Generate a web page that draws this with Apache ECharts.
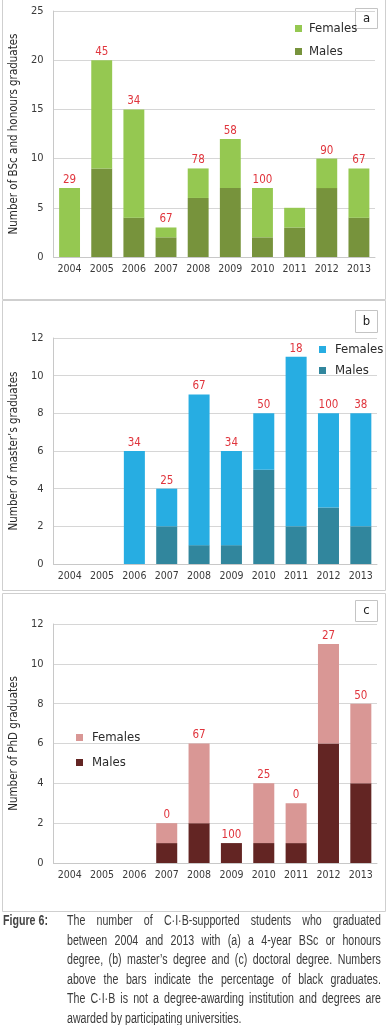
<!DOCTYPE html>
<html>
<head>
<meta charset="utf-8">
<script src="https://cdn.jsdelivr.net/npm/echarts@6/dist/echarts.min.js"></script>
<style>
  html, body { margin: 0; padding: 0; background: #fff; }
  #wrap { position: relative; width: 387px; height: 1025px; overflow: hidden; }
  #chart { position: absolute; left: 0; top: 0; width: 387px; height: 1025px; }
  #caption { position: absolute; left: 0; top: 911px; width: 387px;
    font-family: 'Liberation Sans', Arial, sans-serif;
    font-size: 14px; color: #3a3a3a; }
  #caption .head { position: absolute; left: 3px; top: 0; font-weight: bold; line-height: 19.6px;
    transform: scaleX(0.76); transform-origin: 0 0; white-space: nowrap; color: #444; }
  #caption .body { position: absolute; left: 67px; top: 0; width: 413px;
    transform: scaleX(0.76); transform-origin: 0 0; }
  #caption .ln { line-height: 19.6px; height: 19.6px; text-align: justify; text-align-last: justify; }
  #caption .ln.last { text-align-last: left; }
</style>
</head>
<body>
<div id="wrap">
  <div id="chart"></div>
  <div id="caption">
    <div class="head">Figure 6:</div>
    <div class="body">
      <div class="ln">The number of C·I·B-supported students who graduated</div>
      <div class="ln">between 2004 and 2013 with (a) a 4-year BSc or honours</div>
      <div class="ln">degree, (b) master’s degree and (c) doctoral degree. Numbers</div>
      <div class="ln">above the bars indicate the percentage of black graduates.</div>
      <div class="ln">The C·I·B is not a degree-awarding institution and degrees are</div>
      <div class="ln last">awarded by participating universities.</div>
    </div>
  </div>
</div>
<script>
  var years = ['2004', '2005', '2006', '2007', '2008', '2009', '2010', '2011', '2012', '2013'];

  // (a) BSc and honours
  var bscMales = [0, 9, 4, 2, 6, 7, 2, 3, 7, 4];
  var bscFemales = [7, 11, 11, 1, 3, 5, 5, 2, 3, 5];
  var bscBlack = ['29', '45', '34', '67', '78', '58', '100', '', '90', '67'];

  // (b) master's
  var mscMales = [0, 0, 0, 2, 1, 1, 5, 2, 3, 2];
  var mscFemales = [0, 0, 6, 2, 8, 5, 3, 9, 5, 6];
  var mscBlack = ['', '', '34', '25', '67', '34', '50', '18', '100', '38'];

  // (c) PhD
  var phdMales = [0, 0, 0, 1, 2, 1, 1, 1, 6, 4];
  var phdFemales = [0, 0, 0, 1, 4, 0, 3, 2, 5, 4];
  var phdBlack = ['', '', '', '0', '67', '100', '25', '0', '27', '50'];

  var FONT = "'DejaVu Sans Condensed', 'Liberation Sans', sans-serif";
  var TXT = '#3a3a3a';

  function xAxisFor (gridIndex) {
    return {
      type: 'category',
      gridIndex: gridIndex,
      data: years,
      axisTick: {show: false},
      axisLine: {lineStyle: {color: '#c8c8c8'}},
      axisLabel: {color: TXT, fontFamily: FONT, fontSize: 10.5, margin: 7, interval: 0}
    };
  }

  function yAxisFor (gridIndex, max, interval, name, gap) {
    return {
      type: 'value',
      gridIndex: gridIndex,
      min: 0,
      max: max,
      interval: interval,
      name: name,
      nameLocation: 'middle',
      nameGap: gap,
      nameTextStyle: {color: '#2a2a2a', fontFamily: FONT, fontSize: 11.5},
      axisLine: {show: true, lineStyle: {color: '#c8c8c8'}},
      axisTick: {show: false},
      splitLine: {lineStyle: {color: '#d6d6d6'}},
      axisLabel: {color: TXT, fontFamily: FONT, fontSize: 11, margin: 10}
    };
  }

  function barPair (idx, males, females, black, maleColor, femaleColor, suffix) {
    return [
      {
        name: 'Males' + suffix,
        type: 'bar',
        xAxisIndex: idx,
        yAxisIndex: idx,
        stack: 'total' + idx,
        barWidth: '65%',
        itemStyle: {color: maleColor},
        data: males
      },
      {
        name: 'Females' + suffix,
        type: 'bar',
        xAxisIndex: idx,
        yAxisIndex: idx,
        stack: 'total' + idx,
        barWidth: '65%',
        itemStyle: {color: femaleColor},
        label: {
          show: true,
          position: 'top',
          distance: 2,
          color: '#e0353d',
          fontFamily: FONT,
          fontSize: 11.5,
          formatter: function (p) {
            return black[p.dataIndex];
          }
        },
        data: females
      }
    ];
  }

  function legendFor (left, top, gap, suffix, textGap) {
    return {
      orient: 'vertical',
      left: left,
      top: top,
      itemGap: gap,
      itemWidth: 7,
      itemHeight: 7,
      icon: 'rect',
      selectedMode: false,
      textStyle: {color: '#2a2a2a', fontFamily: FONT, fontSize: 13, padding: [0, 0, 0, textGap - 5]},
      data: ['Females' + suffix, 'Males' + suffix],
      formatter: function (name) {
        return name.trim();
      }
    };
  }

  function panelBox (y, h) {
    return {
      type: 'rect',
      shape: {x: 2.5, y: y + 0.5, width: 383, height: h},
      style: {fill: 'none', stroke: '#cfcfcf', lineWidth: 1},
      silent: true
    };
  }

  function tagBox (y, h, letter) {
    return [
      {
        type: 'rect',
        shape: {x: 355.5, y: y + 0.5, width: 22, height: h},
        style: {fill: '#fff', stroke: '#c4c4c4', lineWidth: 1}
      },
      {
        type: 'text',
        x: 366.5,
        y: y + h / 2 + 0.5,
        style: {text: letter, fill: '#222', font: '13px ' + FONT, align: 'center', verticalAlign: 'middle'}
      }
    ];
  }

  var chart = echarts.init(document.getElementById('chart'));

  chart.setOption({
    animation: false,
    grid: [
      {left: 49, right: 12, top: 11, height: 246},
      {left: 46, right: 10, top: 338, height: 226},
      {left: 44, right: 10, top: 624, height: 239}
    ],
    xAxis: [xAxisFor(0), xAxisFor(1), xAxisFor(2)],
    yAxis: [
      yAxisFor(0, 25, 5, 'Number of BSc and honours graduates', 31),
      yAxisFor(1, 12, 2, 'Number of master’s graduates', 28),
      yAxisFor(2, 12, 2, 'Number of PhD graduates', 26)
    ],
    legend: [
      legendFor(290, 17, 10, '', 7),
      legendFor(314, 338, 8, ' ', 9),
      legendFor(71, 726, 12, '  ', 9)
    ],
    series: []
      .concat(barPair(0, bscMales, bscFemales, bscBlack, '#77933c', '#95c851', ''))
      .concat(barPair(1, mscMales, mscFemales, mscBlack, '#31869d', '#27ade2', ' '))
      .concat(barPair(2, phdMales, phdFemales, phdBlack, '#632523', '#d99795', '  ')),
    graphic: [
      panelBox(-1, 300),
      panelBox(300, 290),
      panelBox(593, 318)
    ]
      .concat(tagBox(8, 20, 'a'))
      .concat(tagBox(310, 22, 'b'))
      .concat(tagBox(600, 21, 'c'))
  });
</script>
</body>
</html>
